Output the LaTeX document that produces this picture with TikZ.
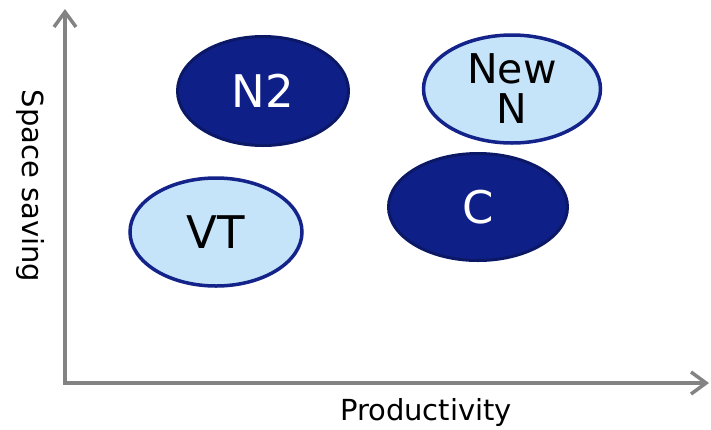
\documentclass[tikz,border=0pt]{standalone}
\usepackage{fontspec}
\setmainfont{DejaVu Sans}
\usepackage{xcolor}
\usetikzlibrary{shapes.geometric}
\usetikzlibrary{arrows.meta}

\definecolor{navyfill}{HTML}{0F1F88}
\definecolor{navyline}{HTML}{0B1866}
\definecolor{paleblue}{HTML}{C5E4FA}
\definecolor{paleline}{HTML}{13238A}
\definecolor{axisgray}{HTML}{838383}

\tikzset{
	darkoval/.style={ellipse,draw=navyline,fill=navyfill,line width=3pt,text=white,inner sep=0pt},
	lightoval/.style={ellipse,draw=paleline,fill=paleblue,line width=3.5pt,text=black,inner sep=0pt,align=center},
	axisline/.style={draw=axisgray,line width=3.5pt,{Straight Barb[length=15pt,width=22pt]}-{Straight Barb[length=15pt,width=22pt]}},
	axislabel/.style={font=\fontsize{29}{30}\selectfont}
}

\begin{document}
\begin{tikzpicture}[x=1pt,y=-1pt]
				\useasboundingbox (0,0) rectangle (711,429);
				\coordinate (O) at (65,383);
				\coordinate (Ytop) at (65,9);
				\coordinate (Xend) at (709,383);
				\draw[axisline] (Ytop) -- (O) -- (Xend);
				\node (Y) at (30,186) [axislabel,rotate=-90] {Space saving};
				\node (X) at (426,412) [axislabel] {Productivity};
				\node (N2) at (263,91) [darkoval,minimum width=171pt,minimum height=109pt,font=\fontsize{45}{45}\selectfont] {N2};
				\node (NewN) at (512,89) [lightoval,minimum width=177pt,minimum height=108pt,font=\fontsize{41}{40}\selectfont] {New\\N};
				\node (C) at (478,207) [darkoval,minimum width=179pt,minimum height=107pt,font=\fontsize{45}{45}\selectfont] {C};
				\node (VT) at (216,232) [lightoval,minimum width=172pt,minimum height=108pt,font=\fontsize{45}{45}\selectfont] {VT};
			\end{tikzpicture}
\end{document}
